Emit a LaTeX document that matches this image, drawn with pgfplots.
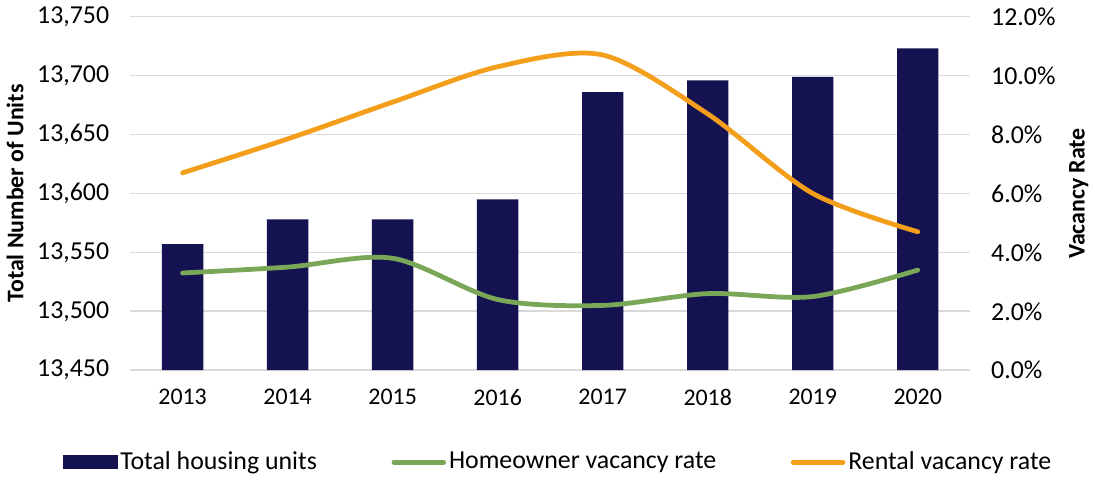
\documentclass[border=0pt]{standalone}
\usepackage{fontspec}
\setmainfont{Carlito}
\usepackage{pgfplots}
\pgfplotsset{compat=1.18}
\definecolor{barblue}{RGB}{20,18,80}
\definecolor{homegreen}{RGB}{122,166,88}
\definecolor{rentorange}{RGB}{243,159,28}
\definecolor{gridgray}{RGB}{217,217,217}

\pgfplotsset{
  twin/.style={
    scale only axis, width=422.5pt, height=177.8pt,
    xmin=-0.5, xmax=7.5,
    major tick length=0pt,
    /pgf/number format/assume math mode=true,
    scaled y ticks=false,
    tick label style={font=\fontsize{12}{14}\selectfont},
    yticklabel style={font=\fontsize{13}{15}\selectfont},
    label style={font=\fontsize{12}{14}\selectfont\bfseries},
  },
}

\begin{document}
\begin{tikzpicture}[font=\fontsize{12}{14}\selectfont]
\begin{axis}[
  twin,
  ymin=13450, ymax=13750,
  ytick={13450,13500,...,13750},
  yticklabel={\pgfmathprintnumber[fixed,precision=0,1000 sep={,}]{\tick}},
  xtick={0,...,7},
  xticklabels={2013,2014,2015,2016,2017,2018,2019,2020},
  xticklabel style={yshift=-6pt},
  yticklabel style={xshift=-7pt},
  ymajorgrids,
  grid style={gridgray, line width=0.8pt},
  axis line style={draw=none},
  ylabel={Total Number of Units},
]
\addplot[ybar, bar width=20.8pt, fill=barblue, draw=none]
  coordinates {(0,13557) (1,13578) (2,13578) (3,13595) (4,13686) (5,13696) (6,13699) (7,13723)};
\end{axis}

\begin{axis}[
  twin,
  ymin=0, ymax=12,
  ytick={0,2,...,12},
  yticklabel={\pgfmathprintnumber[fixed,fixed zerofill,precision=1]{\tick}\%},
  yticklabel style={xshift=7pt},
  axis y line*=right,
  axis x line=none,
  axis line style={draw=none},
  ylabel={Vacancy Rate},
  legend columns=3,
  legend style={at={(0.51,-0.26)}, anchor=center, draw=none, fill=none,
    font=\fontsize{13}{15}\selectfont,
    /tikz/every even column/.append style={column sep=36pt},
    nodes={inner sep=1.5pt}},
]
\addlegendimage{legend image code/.code={\fill[barblue] (0pt,-3.3pt) rectangle (27pt,3.3pt);}}
\addlegendentry{Total housing units}
\addplot[homegreen, line width=2.4pt, line cap=round, smooth,
  legend image code/.code={\draw[homegreen, line width=2.4pt, line cap=round] (1pt,0pt) -- (26pt,0pt);}]
  coordinates {(0,3.3) (1,3.5) (2,3.8) (3,2.4) (4,2.2) (5,2.6) (6,2.5) (7,3.4)};
\addlegendentry{Homeowner vacancy rate}
\addplot[rentorange, line width=2.4pt, line cap=round, smooth,
  legend image code/.code={\draw[rentorange, line width=2.4pt, line cap=round] (1pt,0pt) -- (26pt,0pt);}]
  coordinates {(0,6.7) (1,7.85) (2,9.1) (3,10.3) (4,10.7) (5,8.7) (6,6.0) (7,4.7)};
\addlegendentry{Rental vacancy rate}
\end{axis}
\end{tikzpicture}
\end{document}
